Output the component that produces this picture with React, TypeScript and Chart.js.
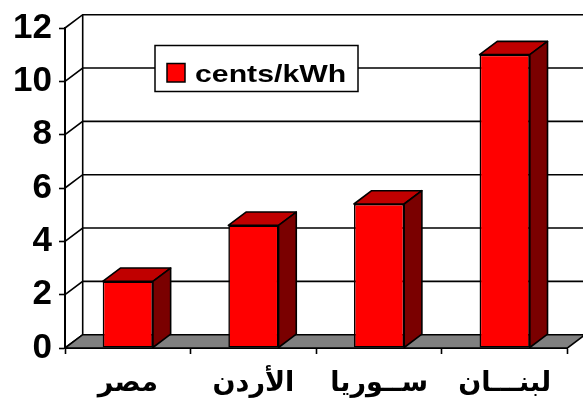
import { useEffect, useRef } from "react";
import { Chart, registerables } from "chart.js";

Chart.register(...registerables);

const categories = ["مصر", "الأردن", "ســوريا", "لبنـــان"];
const costValues = [2.5, 4.6, 5.4, 11.0];
const yTickValues = [0, 2, 4, 6, 8, 10, 12];
const seriesName = "cents/kWh";

const DEPTH_X = 17.7;
const DEPTH_Y = 13.3;

const threeDPlugin = {
  id: "threeD",
  beforeDatasetsDraw(chart: any) {
    const { ctx, chartArea: a, scales } = chart;
    const ys = scales.y;
    const W = chart.width;
    ctx.save();
    ctx.strokeStyle = "#000";
    ctx.lineWidth = 1.6;
    for (const v of yTickValues) {
      const yf = ys.getPixelForValue(v);
      const yb = yf - DEPTH_Y;
      ctx.beginPath();
      ctx.moveTo(a.left, yf);
      ctx.lineTo(a.left + DEPTH_X, yb);
      ctx.lineTo(W, yb);
      ctx.stroke();
    }
    ctx.beginPath();
    ctx.moveTo(a.left + DEPTH_X, ys.getPixelForValue(yTickValues[yTickValues.length - 1]) - DEPTH_Y);
    ctx.lineTo(a.left + DEPTH_X, a.bottom - DEPTH_Y);
    ctx.stroke();
    ctx.beginPath();
    ctx.moveTo(a.left, a.bottom);
    ctx.lineTo(a.right, a.bottom);
    ctx.lineTo(a.right + DEPTH_X, a.bottom - DEPTH_Y);
    ctx.lineTo(a.left + DEPTH_X, a.bottom - DEPTH_Y);
    ctx.closePath();
    ctx.fillStyle = "#808080";
    ctx.fill();
    ctx.stroke();
    ctx.restore();
  },
  afterDatasetsDraw(chart: any) {
    const { ctx } = chart;
    const meta = chart.getDatasetMeta(0);
    ctx.save();
    ctx.strokeStyle = "#000";
    ctx.lineWidth = 1.6;
    ctx.lineJoin = "round";
    for (const bar of meta.data) {
      const { x, y, base, width } = bar.getProps(["x", "y", "base", "width"], true);
      const l = x - width / 2;
      const r = x + width / 2;
      ctx.beginPath();
      ctx.moveTo(l, y);
      ctx.lineTo(r, y);
      ctx.lineTo(r + DEPTH_X, y - DEPTH_Y);
      ctx.lineTo(l + DEPTH_X, y - DEPTH_Y);
      ctx.closePath();
      ctx.fillStyle = "#C00000";
      ctx.fill();
      ctx.stroke();
      ctx.beginPath();
      ctx.moveTo(r, y);
      ctx.lineTo(r + DEPTH_X, y - DEPTH_Y);
      ctx.lineTo(r + DEPTH_X, base - DEPTH_Y);
      ctx.lineTo(r, base);
      ctx.closePath();
      ctx.fillStyle = "#7A0000";
      ctx.fill();
      ctx.stroke();
    }
    ctx.restore();
  },
  afterDraw(chart: any) {
    const { ctx, chartArea: a } = chart;
    const bx = a.left + 90;
    const by = a.top + 17.5;
    const bw = 203;
    const bh = 46;
    ctx.save();
    ctx.fillStyle = "#fff";
    ctx.fillRect(bx, by, bw, bh);
    ctx.strokeStyle = "#000";
    ctx.lineWidth = 1.5;
    ctx.strokeRect(bx, by, bw, bh);
    ctx.fillStyle = "#FF0000";
    ctx.fillRect(bx + 12, by + 18, 18, 18.5);
    ctx.strokeRect(bx + 12, by + 18, 18, 18.5);
    ctx.fillStyle = "#000";
    ctx.font = "bold 24px 'Liberation Sans', Arial, sans-serif";
    ctx.textBaseline = "alphabetic";
    ctx.textAlign = "left";
    ctx.translate(bx + 40, by + 36.7);
    ctx.scale(1.26, 1);
    ctx.fillText(seriesName, 0, 0);
    ctx.restore();
  },
};

export default function App() {
  const ref = useRef<HTMLCanvasElement>(null);
  useEffect(() => {
    document.body.style.margin = "0";
    const chart = new Chart(ref.current!, {
      type: "bar",
      data: {
        labels: categories,
        datasets: [
          {
            label: seriesName,
            data: costValues,
            backgroundColor: "#FF0000",
            borderColor: "#000",
            borderWidth: 1.6,
            borderSkipped: false,
            categoryPercentage: 1,
            barPercentage: 0.4,
          },
        ],
      },
      options: {
        responsive: false,
        animation: false,
        events: [],
        layout: { padding: { top: 22.5, right: 15.5, left: 0, bottom: 0 } },
        plugins: { legend: { display: false }, tooltip: { enabled: false } },
        scales: {
          x: {
            afterFit: (s: any) => {
              s.height = 60;
            },
            border: { display: true, color: "#000", width: 2 },
            grid: {
              display: true,
              offset: true,
              drawOnChartArea: false,
              drawTicks: true,
              tickLength: 6,
              tickColor: "#000",
              tickWidth: 1.6,
            },
            ticks: {
              color: "#000",
              padding: 14,
              font: { family: "'DejaVu Sans', sans-serif", size: 27, weight: "bold" },
            },
          },
          y: {
            min: 0,
            max: 12,
            afterFit: (s: any) => {
              s.width = 65;
            },
            afterBuildTicks: (s: any) => {
              s.ticks = yTickValues.map((v) => ({ value: v }));
            },
            border: { display: true, color: "#000", width: 2 },
            grid: {
              display: true,
              drawOnChartArea: false,
              drawTicks: true,
              tickLength: 6,
              tickColor: "#000",
              tickWidth: 1.6,
            },
            ticks: {
              color: "#000",
              padding: 7,
              font: { family: "'Liberation Sans', Arial, sans-serif", size: 35, weight: "bold" },
            },
          },
        },
      },
      plugins: [threeDPlugin],
    });
    return () => chart.destroy();
  }, []);
  return (
    <div style={{ position: "absolute", left: 0, top: 0, width: 583, height: 408, background: "#fff" }}>
      <canvas ref={ref} width={583} height={408} style={{ width: 583, height: 408, display: "block" }} />
    </div>
  );
}
